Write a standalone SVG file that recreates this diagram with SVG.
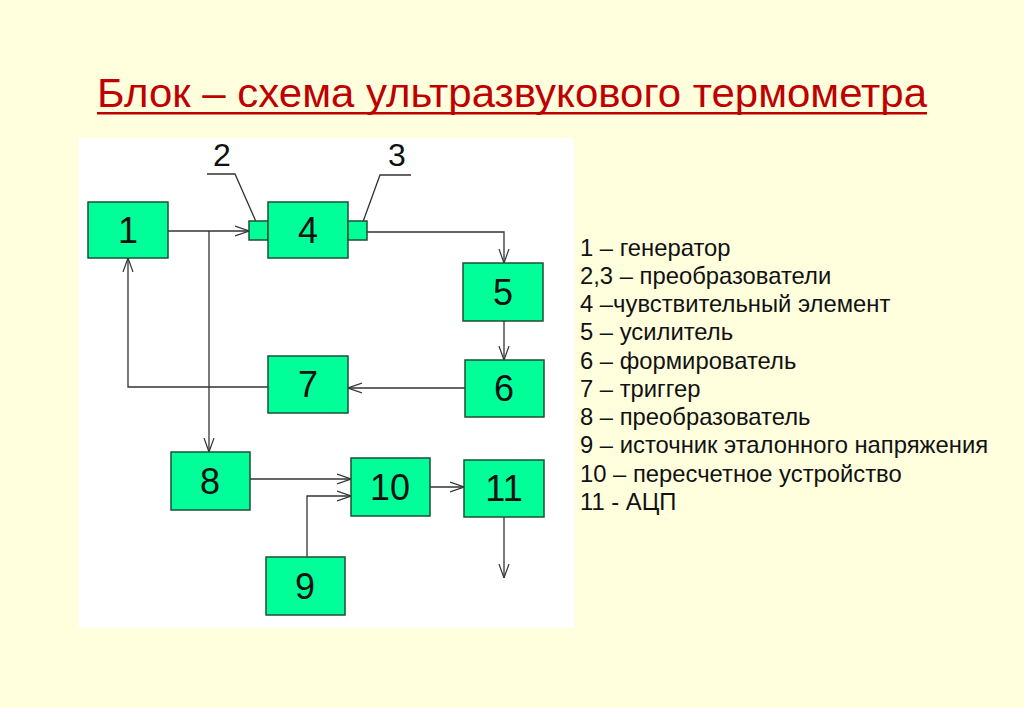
<svg xmlns="http://www.w3.org/2000/svg" width="1024" height="708" viewBox="0 0 1024 708">
<style>
.bg{fill:#FFFFDD}
.box{fill:#00FF99;stroke:#1F4F33;stroke-width:1.5}
.num{font-family:"Liberation Sans",Arial,sans-serif;font-size:36px;fill:#111;text-anchor:middle}
.ln{fill:none;stroke:#333;stroke-width:1.3}
.leg{font-family:"Liberation Sans",Arial,sans-serif;font-size:23.8px;fill:#111}
.lbl{font-family:"Liberation Sans",Arial,sans-serif;font-size:32px;fill:#111;text-anchor:middle}
</style>
<defs>
<marker id="ar" viewBox="0 0 14 12" refX="14" refY="6" markerWidth="14" markerHeight="12" markerUnits="userSpaceOnUse" orient="auto">
<path d="M0,1 L14,6 L0,11" fill="none" stroke="#333" stroke-width="1.2"/>
</marker>
</defs>
<rect class="bg" x="0" y="0" width="1024" height="708"/>
<rect x="79" y="138" width="495" height="490" fill="#FFFFFF"/>
<text x="97" y="107" font-family="'Liberation Sans Narrow','Liberation Sans',Arial,sans-serif" font-size="40" fill="#C00000" textLength="830" lengthAdjust="spacingAndGlyphs">Блок – схема ультразвукового термометра</text>
<rect x="97" y="112" width="830" height="2.5" fill="#C00000"/>

<g id="connectors">
<path class="ln" d="M168,231 H249" marker-end="url(#ar)"/>
<path class="ln" d="M209,231 V452" marker-end="url(#ar)"/>
<path class="ln" d="M367,232 H504 V263" marker-end="url(#ar)"/>
<path class="ln" d="M504,321 V360" marker-end="url(#ar)"/>
<path class="ln" d="M465,388 H348" marker-end="url(#ar)"/>
<path class="ln" d="M268,387 H128 V258" marker-end="url(#ar)"/>
<path class="ln" d="M250,479 H351" marker-end="url(#ar)"/>
<path class="ln" d="M307,557 V496 H351" marker-end="url(#ar)"/>
<path class="ln" d="M430,487 H464" marker-end="url(#ar)"/>
<path class="ln" d="M504,517 V578" marker-end="url(#ar)"/>
<path class="ln" d="M207,174 H235 L257,224" stroke-width="1"/>
<path class="ln" d="M411,175 H380 L360,230" stroke-width="1"/>
</g>

<g id="label2"><text class="lbl" x="222" y="166">2</text></g>
<g id="label3"><text class="lbl" x="397" y="166">3</text></g>

<g id="node1"><rect class="box" x="88" y="202" width="80" height="56"/><text class="num" x="128" y="243">1</text></g>
<g id="node2"><rect class="box" x="249" y="221" width="19" height="19"/></g>
<g id="node4"><rect class="box" x="268" y="202" width="80" height="56"/><text class="num" x="308" y="243">4</text></g>
<g id="node3"><rect class="box" x="348" y="221" width="19" height="19"/></g>
<g id="node5"><rect class="box" x="463" y="263" width="80" height="58"/><text class="num" x="503" y="305">5</text></g>
<g id="node6"><rect class="box" x="465" y="360" width="79" height="57"/><text class="num" x="504" y="401">6</text></g>
<g id="node7"><rect class="box" x="268" y="356" width="80" height="57"/><text class="num" x="308" y="397">7</text></g>
<g id="node8"><rect class="box" x="171" y="452" width="79" height="58"/><text class="num" x="210" y="494">8</text></g>
<g id="node10"><rect class="box" x="351" y="458" width="79" height="58"/><text class="num" x="390" y="500">10</text></g>
<g id="node11"><rect class="box" x="464" y="460" width="80" height="57"/><text class="num" x="504" y="501">11</text></g>
<g id="node9"><rect class="box" x="266" y="557" width="79" height="58"/><text class="num" x="305" y="599">9</text></g>

<g id="legend" class="leg">
<text x="580" y="256">1 – генератор</text>
<text x="580" y="284">2,3 – преобразователи</text>
<text x="580" y="312">4 –чувствительный элемент</text>
<text x="580" y="340">5 – усилитель</text>
<text x="580" y="369">6 – формирователь</text>
<text x="580" y="397">7 – триггер</text>
<text x="580" y="425">8 – преобразователь</text>
<text x="580" y="453">9 – источник эталонного напряжения</text>
<text x="580" y="482">10 – пересчетное устройство</text>
<text x="580" y="510">11 - АЦП</text>
</g>
</svg>
